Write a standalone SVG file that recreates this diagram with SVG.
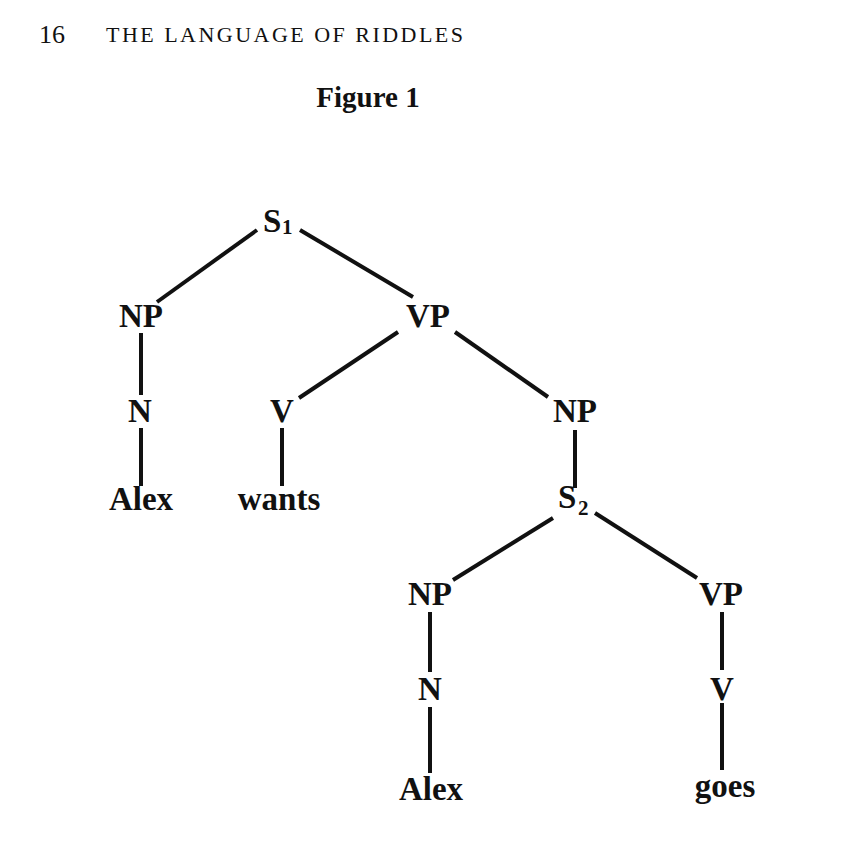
<svg xmlns="http://www.w3.org/2000/svg" width="856" height="856" viewBox="0 0 856 856">
<style>
.hd{font-family:"Liberation Serif",serif;fill:#111}
.nd{font-family:"Liberation Serif",serif;font-weight:bold;font-size:33px;fill:#111;text-anchor:middle}
.st{text-anchor:start}
.sub{font-size:21px}
.edges line{stroke:#111;stroke-width:4;stroke-linecap:butt}
</style>
<rect width="856" height="856" fill="#fff"/>
<g id="header">
<text class="hd" x="39" y="43" font-size="26">16</text>
<text class="hd" x="106" y="42" font-size="22" textLength="357" lengthAdjust="spacing">THE LANGUAGE OF RIDDLES</text>
<text class="hd" x="368" y="107" font-size="29" font-weight="bold" text-anchor="middle">Figure 1</text>
</g>
<g class="edges" id="connectors">
<line x1="257" y1="230" x2="157" y2="302"/>
<line x1="300" y1="230" x2="413" y2="297"/>
<line x1="141" y1="333" x2="141" y2="395"/>
<line x1="141" y1="428" x2="141" y2="486"/>
<line x1="398" y1="332" x2="299" y2="398"/>
<line x1="455" y1="332" x2="548" y2="397"/>
<line x1="282" y1="428" x2="282" y2="486"/>
<line x1="575" y1="430" x2="575" y2="488"/>
<line x1="553" y1="518" x2="453" y2="580"/>
<line x1="595" y1="513" x2="697" y2="578"/>
<line x1="430" y1="612" x2="430" y2="672"/>
<line x1="430" y1="707" x2="430" y2="773"/>
<line x1="722" y1="612" x2="722" y2="670"/>
<line x1="722" y1="703" x2="722" y2="770"/>
</g>
<g id="S1"><text class="nd st" x="263" y="232">S<tspan class="sub" x="282" y="234">1</tspan></text></g>
<g id="NP1"><text class="nd" x="141" y="327">NP</text></g>
<g id="VP1"><text class="nd" x="428" y="327">VP</text></g>
<g id="N1"><text class="nd" x="140" y="422">N</text></g>
<g id="V1"><text class="nd" x="282" y="422">V</text></g>
<g id="NP2"><text class="nd" x="575" y="422">NP</text></g>
<g id="Alex1"><text class="nd" x="141" y="510">Alex</text></g>
<g id="wants"><text class="nd" x="279" y="510">wants</text></g>
<g id="S2"><text class="nd st" x="558" y="508">S<tspan class="sub" x="578" y="515">2</tspan></text></g>
<g id="NP3"><text class="nd" x="430" y="605">NP</text></g>
<g id="VP2"><text class="nd" x="721" y="605">VP</text></g>
<g id="N2"><text class="nd" x="430" y="700">N</text></g>
<g id="V2"><text class="nd" x="722" y="700">V</text></g>
<g id="Alex2"><text class="nd" x="431" y="800">Alex</text></g>
<g id="goes"><text class="nd" x="725" y="797">goes</text></g>
</svg>
